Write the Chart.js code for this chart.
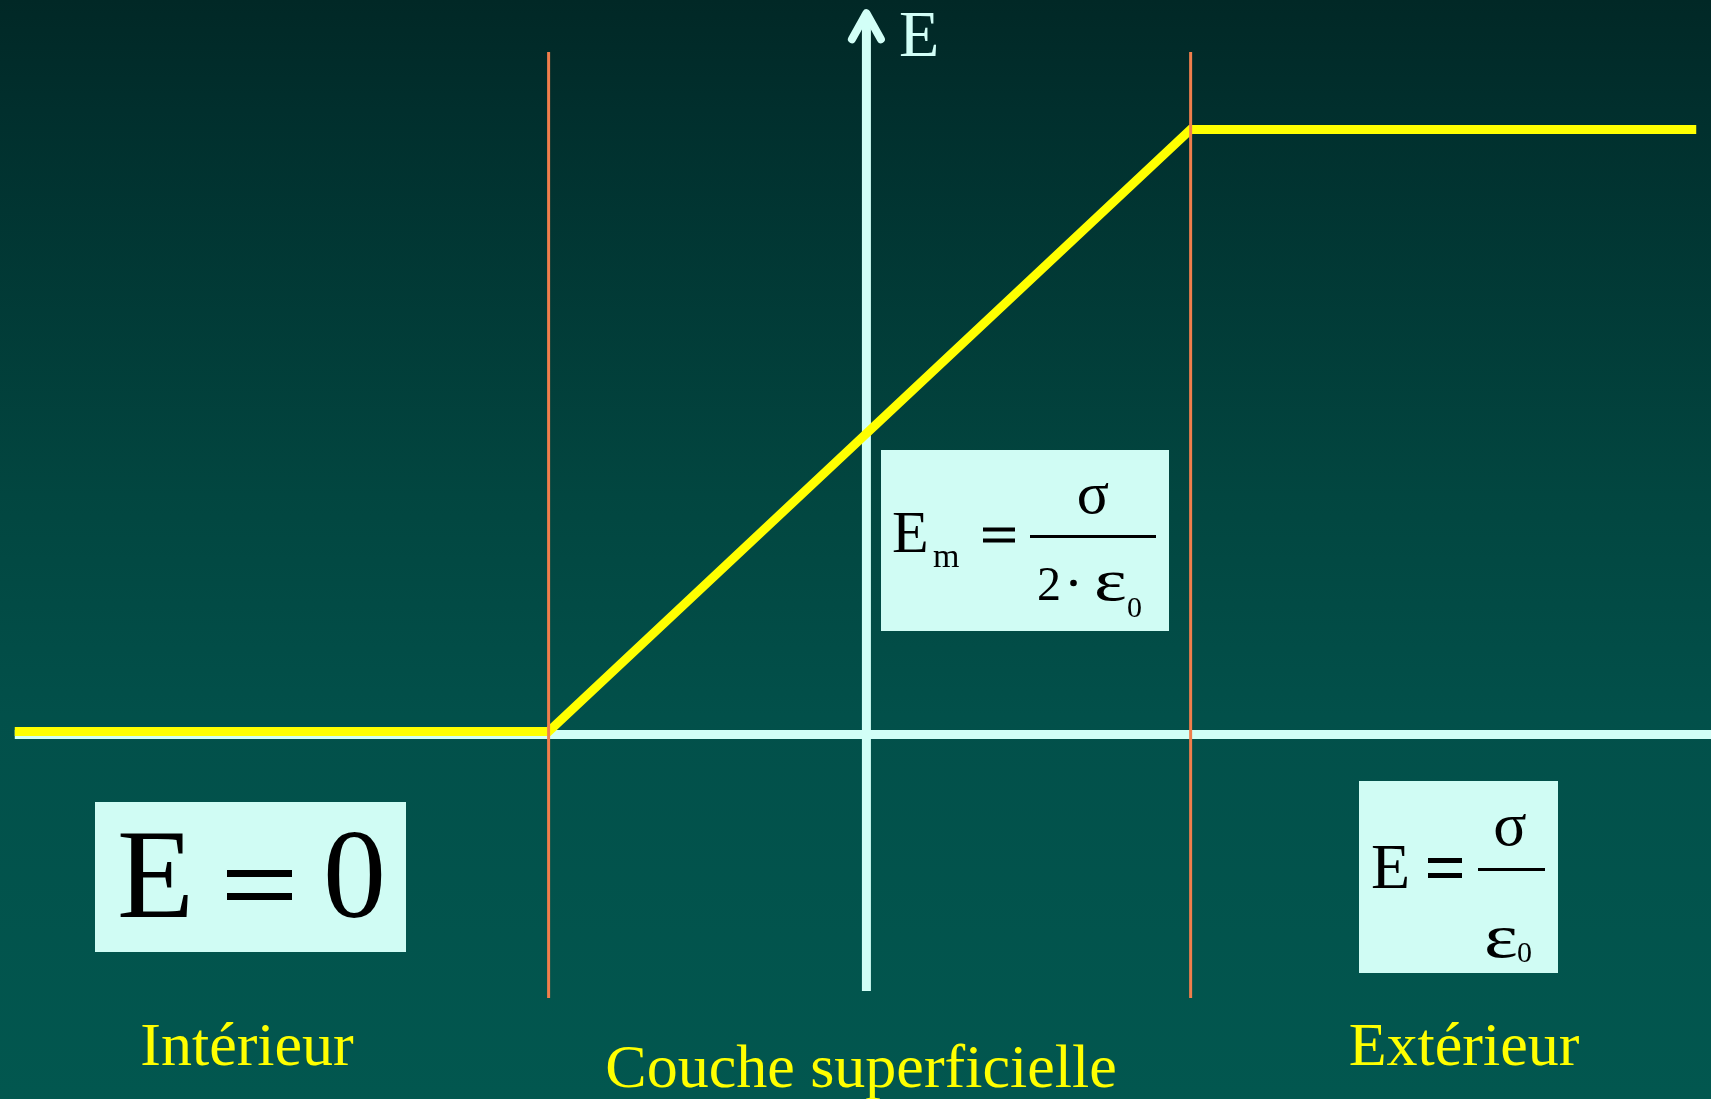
<!DOCTYPE html>
<html>
<head>
<meta charset="utf-8">
<script src="https://cdn.jsdelivr.net/npm/chart.js@4.4.0/dist/chart.umd.min.js"></script>
<style>
  html, body { margin: 0; padding: 0; background: #01302c; overflow: hidden; }
  canvas { display: block; }
</style>
</head>
<body>
<canvas id="champ" width="1711" height="1099"></canvas>
<script>
// x: position across the surface layer (edges near -1 and +1), y: field in units of sigma/eps0
const positions = [-2.653, -0.99, 1.01, 2.585];
const fieldValues = [0, 0, 1, 1];
const layerEdges = [-0.99, 1.01];
const edgeRange = [-0.4427, 1.1287];
const regionLabels = ["Intérieur", "Couche superficielle", "Extérieur"];

const yellow = "#ffff00";
const pale = "#d2fff7";
const boxFill = "#d0fcf4";
const orange = "#f07e4c";

function txt(ctx, s, x, y, size, align, color, sx) {
  ctx.save();
  ctx.font = size + 'px "Liberation Serif", "Times New Roman", serif';
  ctx.fillStyle = color || "#000";
  ctx.textAlign = align || "left";
  ctx.textBaseline = "alphabetic";
  ctx.translate(x, y);
  ctx.scale(sx || 1, 1);
  ctx.fillText(s, 0, 0);
  ctx.restore();
}

const backdrop = {
  id: "backdrop",
  beforeDraw(chart) {
    const ctx = chart.ctx;
    const g = ctx.createLinearGradient(0, 0, 0, chart.height);
    g.addColorStop(0, "#012826");
    g.addColorStop(0.1, "#012f2d");
    g.addColorStop(0.45, "#024640");
    g.addColorStop(0.65, "#02504a");
    g.addColorStop(1, "#02574f");
    ctx.save();
    ctx.fillStyle = g;
    ctx.fillRect(0, 0, chart.width, chart.height);
    ctx.restore();
  }
};

const axes = {
  id: "axes",
  beforeDatasetsDraw(chart) {
    const ctx = chart.ctx;
    const x = chart.scales.x, y = chart.scales.y;
    const x0 = x.getPixelForValue(0);
    const y0 = y.getPixelForValue(0) + 3;
    ctx.save();
    ctx.strokeStyle = pale;
    ctx.lineWidth = 9;
    // horizontal axis
    ctx.beginPath();
    ctx.moveTo(x.getPixelForValue(positions[0]), y0);
    ctx.lineTo(chart.width, y0);
    ctx.stroke();
    // vertical axis with arrow
    const top = y.getPixelForValue(1.193);
    ctx.beginPath();
    ctx.moveTo(x0, y.getPixelForValue(-0.431));
    ctx.lineTo(x0, top);
    ctx.stroke();
    ctx.lineCap = "round";
    ctx.lineJoin = "round";
    ctx.lineWidth = 8;
    ctx.beginPath();
    ctx.moveTo(x0 - 14.5, top + 26);
    ctx.lineTo(x0, top);
    ctx.lineTo(x0 + 14.5, top + 26);
    ctx.stroke();
    ctx.restore();
    txt(ctx, "E", 899, 56, 66, "left", pale);
  }
};

const notes = {
  id: "notes",
  afterDraw(chart) {
    const ctx = chart.ctx;
    ctx.save();
    ctx.fillStyle = boxFill;
    ctx.fillRect(881, 450, 288, 181);
    ctx.fillRect(95, 802, 311, 150);
    ctx.fillRect(1359, 781, 199, 192);
    ctx.restore();

    // E_m = sigma / (2 eps0)
    txt(ctx, "E", 892, 552, 60);
    txt(ctx, "m", 933, 567, 34);
    ctx.fillStyle = "#000";
    ctx.fillRect(983, 527.5, 32, 4);
    ctx.fillRect(983, 538.5, 32, 4);
    ctx.fillRect(1030, 535, 126, 3);
    txt(ctx, "σ", 1093, 513, 60, "center");
    txt(ctx, "2", 1037, 600, 48);
    ctx.beginPath();
    ctx.arc(1073.5, 583, 3.3, 0, Math.PI * 2);
    ctx.fill();
    txt(ctx, "ε", 1094, 600, 60, "left", "#000", 1.3);
    txt(ctx, "0", 1127, 617, 30);

    // E = 0
    txt(ctx, "E", 117, 917, 126);
    ctx.fillStyle = "#000";
    ctx.fillRect(227, 870, 65, 7);
    ctx.fillRect(227, 893, 65, 7);
    txt(ctx, "0", 323, 917, 126);

    // E = sigma / eps0
    txt(ctx, "E", 1371, 888, 64);
    ctx.fillStyle = "#000";
    ctx.fillRect(1428, 858, 34, 5);
    ctx.fillRect(1428, 873, 34, 5);
    ctx.fillRect(1478, 868, 67, 3);
    txt(ctx, "σ", 1510, 845, 62, "center");
    txt(ctx, "ε", 1484, 957, 62, "left", "#000", 1.3);
    txt(ctx, "0", 1517, 962, 30);

    // region names
    txt(ctx, regionLabels[0], 247, 1065, 62, "center", yellow);
    txt(ctx, regionLabels[1], 861, 1087, 62, "center", yellow);
    txt(ctx, regionLabels[2], 1464, 1065, 62, "center", yellow);
  }
};

const fieldLine = positions.map((p, i) => ({ x: p, y: fieldValues[i] }));
const edgeSets = layerEdges.map(e => ({
  data: edgeRange.map(v => ({ x: e, y: v })),
  borderColor: orange,
  borderWidth: 3,
  showLine: true,
  pointRadius: 0,
  order: 0
}));

new Chart(document.getElementById("champ").getContext("2d"), {
  type: "scatter",
  data: {
    datasets: [
      {
        data: fieldLine,
        borderColor: yellow,
        borderWidth: 9,
        showLine: true,
        pointRadius: 0,
        borderJoinStyle: "miter",
        order: 1
      },
      ...edgeSets
    ]
  },
  options: {
    responsive: false,
    animation: false,
    layout: { padding: 0 },
    plugins: { legend: { display: false }, tooltip: { enabled: false } },
    scales: {
      x: { type: "linear", display: false, min: -2.699, max: 2.631 },
      y: { type: "linear", display: false, min: -0.6105, max: 1.2151 }
    }
  },
  plugins: [backdrop, axes, notes]
});
</script>
</body>
</html>
